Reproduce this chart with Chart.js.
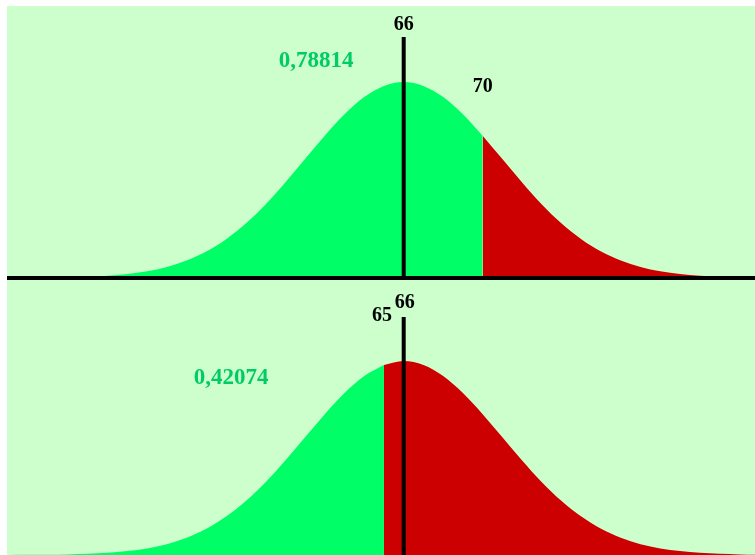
<!DOCTYPE html>
<html>
<head>
<meta charset="utf-8">
<script src="https://cdn.jsdelivr.net/npm/chart.js@4.4.1/dist/chart.umd.min.js"></script>
<style>
  body { margin: 0; background: #fff; }
  .panel { position: absolute; left: 7px; width: 748px; background: #ccffcc; }
  #topPanel { top: 6px; height: 274px; }
  #bottomPanel { top: 280px; height: 275px; }
</style>
</head>
<body>
<div class="panel" id="topPanel"><canvas id="topChart" width="748" height="274"></canvas></div>
<div class="panel" id="bottomPanel"><canvas id="bottomChart" width="748" height="275"></canvas></div>
<script>
// Scores along the axis and the curve height at each (peak = 100)
const scores = [46, 47, 48, 49, 50, 51, 52, 53, 54, 55, 56, 57, 58, 59, 60, 61, 62, 63, 64, 65,
  66, 67, 68, 69, 70, 71, 72, 73, 74, 75, 76, 77, 78, 79, 80, 81, 82, 83, 84];
const heights = [0.03, 0.07, 0.15, 0.31, 0.6, 1.1, 2.0, 3.4, 5.6, 8.9, 13.5, 19.8, 27.8, 37.5, 48.7, 60.7, 72.6, 83.5, 92.3, 98.0,
  100, 98.0, 92.3, 83.5, 72.6, 60.7, 48.7, 37.5, 27.8, 19.8, 13.5, 8.9, 5.6, 3.4, 2.0, 1.1, 0.6, 0.31, 0.15];

const mean = 66;
const cutoffs = [70, 65];
const probabilities = ["0,78814", "0,42074"];
const lineTop = [123, 122.7]; // height of the mean marker

const GREEN = "#00ff66";
const RED = "#cc0000";
const TEXT_GREEN = "#00cc66";

function points(from, to) {
  const out = [];
  scores.forEach((s, i) => {
    if (s >= from && s <= to) out.push({ x: s, y: heights[i] });
  });
  return out;
}

const labelPlugin = {
  id: "labelPlugin",
  afterDraw(chart) {
    const { ctx, scales: { x, y } } = chart;
    const o = chart.options.plugins.labelPlugin;
    ctx.save();
    ctx.textAlign = "center";
    ctx.textBaseline = "middle";
    ctx.font = "bold 20px 'Liberation Serif'";
    ctx.fillStyle = "#000";
    const lineY = y.getPixelForValue(o.lineTop);
    ctx.fillText(String(mean), x.getPixelForValue(mean) + o.meanDx, lineY - o.meanDy);
    ctx.fillText(String(o.cut), x.getPixelForValue(o.cut) + o.cutDx, o.cutY);
    ctx.font = "bold 23px 'Liberation Serif'";
    ctx.fillStyle = TEXT_GREEN;
    ctx.fillText(o.prob, o.probX, o.probY);
    ctx.restore();
  }
};

function makePanel(id, idx, ymax, bottomPad, showAxis, labelOpts) {
  const cut = cutoffs[idx];
  const datasets = [
    { data: [{ x: mean, y: 0 }, { x: mean, y: lineTop[idx] }], borderColor: "#000", borderWidth: 4, order: 0, clip: false },
    { data: points(46, cut), borderWidth: 0, backgroundColor: GREEN, fill: "origin", order: 2 },
    { data: points(cut, 84), borderWidth: 0, backgroundColor: RED, fill: "origin", order: 2 }
  ];
  if (showAxis) {
    datasets.unshift({ data: [{ x: 45.9, y: 0 }, { x: 83.8, y: 0 }], borderColor: "#000", borderWidth: 4, order: 0, clip: false });
  }
  new Chart(document.getElementById(id), {
    type: "line",
    data: { datasets: datasets },
    options: {
      responsive: false,
      animation: false,
      devicePixelRatio: 1,
      layout: { padding: { left: 0, right: 0, top: 0, bottom: bottomPad } },
      elements: {
        point: { radius: 0 },
        line: { tension: 0.4, cubicInterpolationMode: "monotone" }
      },
      scales: {
        x: { type: "linear", min: 45.9, max: 83.8, display: false },
        y: { min: 0, max: ymax, display: false }
      },
      plugins: {
        legend: { display: false },
        tooltip: { enabled: false },
        labelPlugin: Object.assign({ cut: cut, prob: probabilities[idx], lineTop: lineTop[idx] }, labelOpts)
      }
    },
    plugins: [labelPlugin]
  });
}

makePanel("topChart", 0, 138.8, 2, true, { meanDx: 0, meanDy: 12, cutDx: 0, cutY: 81, probX: 309, probY: 55 });
makePanel("bottomChart", 1, 141.8, 0, false, { meanDx: 1, meanDy: 14, cutDx: -2, cutY: 36, probX: 224, probY: 98 });
</script>
</body>
</html>
